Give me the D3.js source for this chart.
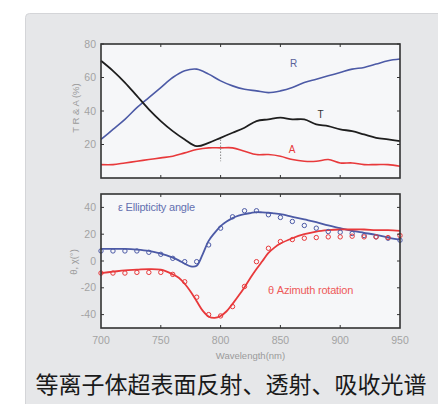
<!DOCTYPE html>
<html lang="zh">
<head>
<meta charset="utf-8">
<script src="https://cdn.jsdelivr.net/npm/d3@7"></script>
<style>
  html, body { margin: 0; padding: 0; background: #fff; }
  svg { display: block; font-family: "Liberation Sans", Arial, sans-serif; }
</style>
</head>
<body>
<script>
// wavelengths (nm) shared by every series
var wavelengths = [700,710,720,730,740,750,760,770,780,790,800,810,820,830,840,850,860,870,880,890,900,910,920,930,940,950];

// top panel: transmission / reflection / absorption (%)
var reflR = [23,29,35,42,48,54,60,64,65,62,58,55,53,52,51,52,54,57,59,61,63,65,66,68,70,71];
var transT = [70,64,57,49,41,34,28,23,19,21,24,27,30,34,35,36,35,35,32,31,29,28,26,24,23,22];
var absA = [8,8,9,10,11,12,13,15,17,18,18,18,16,14,14,13,11,10,10,11,9,9,8,8,8,7];

// bottom panel: measured points (deg)
var ellipPts = [7.5,7.5,7.5,7.5,6.5,5,2,-0.5,-0.5,12,24.5,33,37.5,37.5,34.5,32.5,29.5,26.5,24.5,22,21.5,20.5,19,18,17,15.5];
var azimPts = [-9,-9,-9,-8.5,-8.5,-8.5,-10,-15.5,-27,-40,-41,-34,-19,-0.5,9.5,14.5,16,17,17.5,18,18,18.5,18,18,17.5,19];

// bottom panel: fitted curves (deg)
var fitWl = [700,710,720,730,740,750,760,765,770,775,780,785,790,795,800,805,810,815,820,825,830,835,840,845,850,860,870,880,890,900,910,920,930,940,950];
var ellipFit = [9,9,9,8.5,7.5,5.5,2.5,0.5,-2,-4,-3.5,5,15,21,26,29.5,32,33.8,35,35.8,36.5,36.3,36,35.5,35,33,31,29,26.5,24.5,22.5,21,19.5,17.5,16];
var azimFit = [-9,-8,-7,-6.5,-6,-6.5,-10,-12.5,-17,-23,-30,-37,-41.5,-42.5,-41,-37.5,-32,-26,-19.5,-12.5,-6,0,6,10,13,17,20,22,23,23.5,23.5,23.5,23,23,22.5];

var xTicks = [700,750,800,850,900,950];
var topYTicks = [20,40,60,80];
var botYTicks = [-40,-20,0,20,40];

var W = 438, H = 404;
var svg = d3.select("body").append("svg").attr("width", W).attr("height", H);

// gray card
svg.append("rect").attr("x", 25.5).attr("y", 13.5).attr("width", 430).attr("height", 400)
    .attr("rx", 4).attr("fill", "#e6e7e9").attr("stroke", "#d4d5d8");

var x = d3.scaleLinear().domain([700, 950]).range([101, 400]);
var yTop = d3.scaleLinear().domain([0, 80]).range([178, 44]);
var yBot = d3.scaleLinear().domain([-50, 50]).range([328, 194]);

var cBlue = "#4c5aa6", cRed = "#e8393b", cBlack = "#1e1e1e", cTick = "#a3a3a3";

function frame(y) {
    var r = y.range();
    svg.append("rect").attr("x", 101).attr("y", r[1]).attr("width", 299).attr("height", r[0] - r[1])
        .attr("fill", "#f6f7f9");
}

function ticksAndBorder(y, yTicks) {
    var g = svg.append("g");
    var r = y.range();
    // inward ticks, MATLAB style
    var inner = xTicks.slice(1, -1);
    g.selectAll(".tb").data(inner).enter().append("line")
        .attr("x1", x).attr("x2", x).attr("y1", r[0]).attr("y2", r[0] - 3)
        .attr("stroke", "#333");
    g.selectAll(".tt").data(inner).enter().append("line")
        .attr("x1", x).attr("x2", x).attr("y1", r[1]).attr("y2", r[1] + 3)
        .attr("stroke", "#333");
    g.selectAll(".tl").data(yTicks).enter().append("line")
        .attr("x1", 101).attr("x2", 104).attr("y1", y).attr("y2", y).attr("stroke", "#333");
    g.selectAll(".tr").data(yTicks).enter().append("line")
        .attr("x1", 400).attr("x2", 397).attr("y1", y).attr("y2", y).attr("stroke", "#333");
    g.append("rect").attr("x", 101).attr("y", r[1]).attr("width", 299).attr("height", r[0] - r[1])
        .attr("fill", "none").attr("stroke", "#333").attr("stroke-width", 1.6);
    g.selectAll(".yl").data(yTicks).enter().append("text")
        .attr("x", 96).attr("y", y).attr("dy", "0.35em").attr("text-anchor", "end")
        .attr("font-size", 10.5).attr("fill", cTick).text(function(d) { return d; });
}

frame(yTop);
frame(yBot);

// ---- top panel curves
var lineTop = function(vals) {
    return d3.line().curve(d3.curveCatmullRom)
        .x(function(d, i) { return x(wavelengths[i]); })
        .y(function(d) { return yTop(d); })(vals);
};
svg.append("path").attr("d", lineTop(reflR)).attr("fill", "none").attr("stroke", cBlue).attr("stroke-width", 1.6);
svg.append("path").attr("d", lineTop(transT)).attr("fill", "none").attr("stroke", cBlack).attr("stroke-width", 1.8);
svg.append("path").attr("d", lineTop(absA)).attr("fill", "none").attr("stroke", cRed).attr("stroke-width", 1.6);

// small dashed marker at 800 nm
svg.append("line").attr("x1", x(800)).attr("x2", x(800)).attr("y1", yTop(23)).attr("y2", yTop(10))
    .attr("stroke", "#888").attr("stroke-dasharray", "1.5,1.5");

svg.append("text").attr("x", x(858)).attr("y", yTop(66)).attr("font-size", 10).attr("fill", "#5a6399").text("R");
svg.append("text").attr("x", x(881)).attr("y", yTop(36)).attr("font-size", 10).attr("fill", "#333").text("T");
svg.append("text").attr("x", x(857)).attr("y", yTop(15)).attr("font-size", 10).attr("fill", cRed).text("A");

ticksAndBorder(yTop, topYTicks);

// ---- bottom panel
var lineFit = function(vals) {
    return d3.line().curve(d3.curveCatmullRom)
        .x(function(d, i) { return x(fitWl[i]); })
        .y(function(d) { return yBot(d); })(vals);
};
svg.append("path").attr("d", lineFit(ellipFit)).attr("fill", "none").attr("stroke", cBlue).attr("stroke-width", 1.8);
svg.append("path").attr("d", lineFit(azimFit)).attr("fill", "none").attr("stroke", cRed).attr("stroke-width", 1.8);

function markers(vals, col) {
    svg.append("g").selectAll("circle").data(vals).enter().append("circle")
        .attr("cx", function(d, i) { return x(wavelengths[i]); })
        .attr("cy", function(d) { return yBot(d); })
        .attr("r", 2.2).attr("fill", "none").attr("stroke", col).attr("stroke-width", 1);
}
markers(ellipPts, cBlue);
markers(azimPts, cRed);

svg.append("text").attr("x", 118).attr("y", yBot(40)).attr("dy", "0.35em")
    .attr("font-size", 11).attr("fill", "#6470b0").attr("letter-spacing", -0.2)
    .text("ε  Ellipticity angle");
svg.append("text").attr("x", 268).attr("y", yBot(-22)).attr("dy", "0.35em")
    .attr("font-size", 11).attr("fill", "#ee5a5a").attr("letter-spacing", -0.2)
    .text("θ  Azimuth rotation");

ticksAndBorder(yBot, botYTicks);

// x tick labels
svg.append("g").selectAll("text").data(xTicks).enter().append("text")
    .attr("x", x).attr("y", 340).attr("dy", "0.35em").attr("text-anchor", "middle")
    .attr("font-size", 10.5).attr("fill", cTick).text(function(d) { return d; });

svg.append("text").attr("x", x(825)).attr("y", 356).attr("dy", "0.35em").attr("text-anchor", "middle")
    .attr("font-size", 9.5).attr("fill", "#9a9a9a").text("Wavelength(nm)");

// y axis titles
svg.append("text").attr("transform", "translate(76,108) rotate(-90)").attr("text-anchor", "middle")
    .attr("dy", "0.35em").attr("font-size", 9.5).attr("fill", "#9a9a9a").text("T R & A (%)");
svg.append("text").attr("transform", "translate(74,262) rotate(-90)").attr("text-anchor", "middle")
    .attr("dy", "0.35em").attr("font-size", 9.5).attr("fill", "#9a9a9a").text("θ, χ(°)");

// caption
svg.append("text").attr("x", 231).attr("y", 383).attr("dominant-baseline", "central")
    .attr("text-anchor", "middle").attr("font-family", "'Noto Sans CJK SC', sans-serif")
    .attr("font-size", 23).attr("fill", "#1a1a1a").text("等离子体超表面反射、透射、吸收光谱");
</script>
</body>
</html>
